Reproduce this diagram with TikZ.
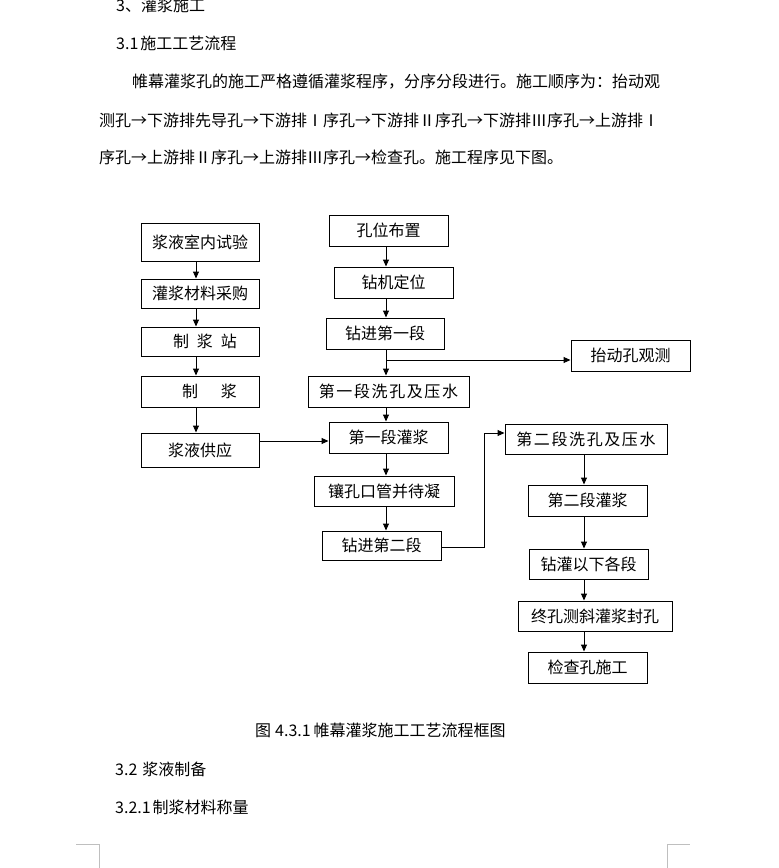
\documentclass[tikz,border=0pt]{standalone}
\usepackage{fontspec}
\newfontfamily\cjk{Noto Sans CJK SC}
\newfontfamily\cjkwide[LetterSpace=10]{Noto Sans CJK SC}
\usetikzlibrary{arrows.meta}
\begin{document}
\begin{tikzpicture}[x=1pt,y=-1pt,
  txt/.style={inner sep=0pt,anchor=west,font=\cjk\fontsize{16pt}{16pt}\selectfont},
  box/.style={draw,line width=1pt,inner sep=0pt,minimum width=119pt,minimum height=31pt,font=\cjk\fontsize{16pt}{16pt}\selectfont},
  arr/.style={line width=1pt,-{Triangle[length=7pt,width=6pt]}},
  ln/.style={line width=1pt},
  cornermark/.style={draw=black!25,line width=1pt}]
\useasboundingbox (0,0) rectangle (779,868);
\fill[white] (0,0) rectangle (779,868);
% text above
\node[txt] (h3) at (116,5) {3、灌浆施工};
\node[txt] (h31) at (116,43) {3.1\hspace{2pt}施工工艺流程};
\node[txt] (p1) at (132,82) {帷幕灌浆孔的施工严格遵循灌浆程序，分序分段进行。施工顺序为：抬动观};
\node[txt] (p2) at (99,120) {测孔→下游排先导孔→下游排Ⅰ序孔→下游排Ⅱ序孔→下游排Ⅲ序孔→上游排Ⅰ};
\node[txt] (p3) at (99,157) {序孔→上游排Ⅱ序孔→上游排Ⅲ序孔→检查孔。施工程序见下图。};
% left column
\node[box,minimum width=118pt,minimum height=38pt] (b1) at (200,242) {浆液室内试验};
\node[box,minimum width=118pt,minimum height=29pt] (b2) at (200,293.5) {灌浆材料采购};
\node[box,minimum width=118pt,minimum height=29pt] (b3) at (200,341.5) {\hspace{10pt}制\hspace{8pt}浆\hspace{8pt}站};
\node[box,minimum width=118pt,minimum height=31pt] (b4) at (200,391.5) {\hspace{19pt}制\hspace{23pt}浆};
\node[box,minimum width=118pt,minimum height=34pt] (b5) at (200,450) {浆液供应};
% main column
\node[box] (m1) at (388.5,230.5) {孔位布置};
\node[box] (m2) at (393.5,282.5) {钻机定位};
\node[box,minimum width=118pt] (m3) at (385,333.5) {钻进第一段};
\node[box,minimum width=161pt,font=\cjkwide\fontsize{16pt}{16pt}\selectfont] (m4) at (388.5,391.5) {第一段洗孔及压水};
\node[box] (m5) at (388.5,437.5) {第一段灌浆};
\node[box,minimum width=140pt,minimum height=30pt] (m6) at (384,491) {镶孔口管并待凝};
\node[box,minimum height=29pt] (m7) at (381.5,545.5) {钻进第二段};
\node[box] (t) at (630.5,355.5) {抬动孔观测};
% right column
\node[box,minimum width=162pt,minimum height=30pt,font=\cjkwide\fontsize{16pt}{16pt}\selectfont] (r1) at (586,439) {第二段洗孔及压水};
\node[box] (r2) at (587.5,500.5) {第二段灌浆};
\node[box,minimum height=30pt] (r3) at (588.5,564) {钻灌以下各段};
\node[box,minimum width=154pt,minimum height=30pt] (r4) at (595,616) {终孔测斜灌浆封孔};
\node[box] (r5) at (587.5,667.5) {检查孔施工};
% caption and text below
\node[txt] (cap) at (255,730) {图\hspace{4pt}4.3.1\hspace{3pt}帷幕灌浆施工工艺流程框图};
\node[txt] (h32) at (115,769) {3.2\hspace{5pt}浆液制备};
\node[txt] (h321) at (115,807) {3.2.1\hspace{2pt}制浆材料称量};
% column coordinates
\coordinate (lx) at (196,0);
\coordinate (mx) at (386,0);
\coordinate (rx) at (584,0);
% left arrows
\draw[arr] (b1.south -| lx) -- (b2.north -| lx);
\draw[arr] (b2.south -| lx) -- (b3.north -| lx);
\draw[arr] (b3.south -| lx) -- (b4.north -| lx);
\draw[arr] (b4.south -| lx) -- (b5.north -| lx);
\coordinate (sy) at (0,441);
\draw[arr] (b5.east |- sy) -- (m5.west |- sy);
% main arrows
\draw[arr] (m1.south -| mx) -- (m2.north -| mx);
\draw[arr] (m2.south -| mx) -- (m3.north -| mx);
\draw[arr] (m3.south -| mx) -- (m4.north -| mx);
\draw[arr] (m4.south -| mx) -- (m5.north -| mx);
\draw[arr] (m5.south -| mx) -- (m6.north -| mx);
\draw[arr] (m6.south -| mx) -- (m7.north -| mx);
\coordinate (ty) at (0,360);
\draw[arr] (mx |- ty) -- (t.west |- ty);
% link to right column
\coordinate (ky) at (0,547);
\coordinate (kx) at (484,0);
\coordinate (jy) at (0,433);
\draw[arr] (m7.east |- ky) -- (kx |- ky) -- (kx |- jy) -- (r1.west |- jy);
% right arrows
\draw[arr] (r1.south -| rx) -- (r2.north -| rx);
\draw[arr] (r2.south -| rx) -- (r3.north -| rx);
\draw[arr] (r3.south -| rx) -- (r4.north -| rx);
\draw[arr] (r4.south -| rx) -- (r5.north -| rx);
% page corner marks
\draw[cornermark] (76,844) -- (99,844) -- (99,868);
\draw[cornermark] (667,868) -- (667,844) -- (690,844);
\end{tikzpicture}
\end{document}
